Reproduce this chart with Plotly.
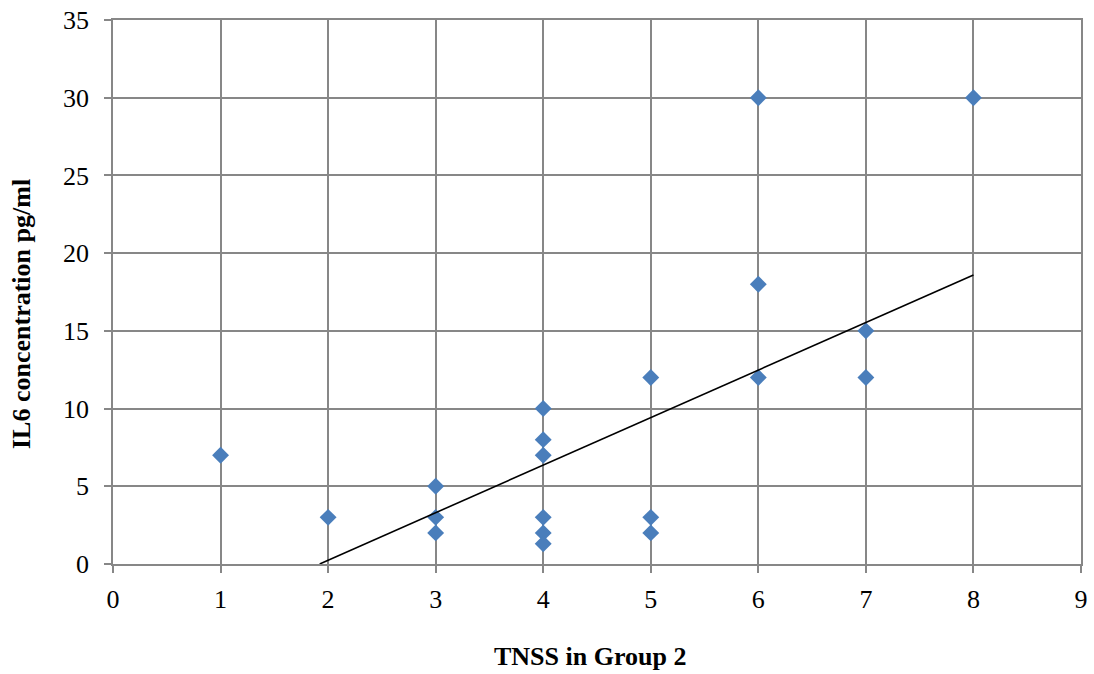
import numpy as np
import plotly.graph_objects as go

# Data
tnss = [1, 2, 3, 3, 3, 4, 4, 4, 4, 4, 4, 5, 5, 5, 6, 6, 6, 7, 7, 8]
il6 = [7, 3, 5, 3, 2, 10, 8, 7, 3, 2, 1.3, 12, 3, 2, 30, 18, 12, 15, 12, 30]

# Linear trendline parameters
trend_slope = 3.06
trend_intercept = -5.88

x_ticks = list(range(0, 10))
y_ticks = list(range(0, 36, 5))

x_start = max(min(tnss), -trend_intercept / trend_slope)
x_end = max(tnss)
trend_x = np.array([x_start, x_end])
trend_y = trend_slope * trend_x + trend_intercept

FONT = "Liberation Serif, Times New Roman, serif"
GRID = "#878787"

fig = go.Figure()
fig.add_trace(go.Scatter(
    x=tnss, y=il6, mode="markers",
    marker=dict(symbol="diamond", size=13, color="#4A7EBB",
                line=dict(width=0)),
    showlegend=False, hoverinfo="x+y",
))
fig.add_trace(go.Scatter(
    x=trend_x, y=trend_y, mode="lines",
    line=dict(color="black", width=1.6),
    showlegend=False, hoverinfo="skip",
))

fig.update_layout(
    width=1094, height=674,
    margin=dict(l=113, r=13, t=20, b=110, autoexpand=False),
    paper_bgcolor="white", plot_bgcolor="white",
    font=dict(family=FONT, size=26, color="black"),
    showlegend=False,
    annotations=[
        dict(text="<b>TNSS in Group 2</b>", xref="paper", yref="paper",
             x=(590 - 113) / (1081 - 113), y=-(656 - 564) / 544,
             xanchor="center", yanchor="middle", showarrow=False,
             font=dict(family=FONT, size=26, color="black")),
        dict(text="<b>IL6 concentration pg/ml</b>", xref="paper", yref="paper",
             x=-(113 - 21) / (1081 - 113), y=(564 - 314) / 544,
             xanchor="center", yanchor="middle", showarrow=False, textangle=-90,
             font=dict(family=FONT, size=26, color="black")),
    ],
)
fig.update_xaxes(
    range=[0, 9], tickvals=x_ticks, ticktext=[str(v) for v in x_ticks],
    showgrid=True, gridcolor=GRID, gridwidth=1.5,
    showline=True, linecolor=GRID, linewidth=1.5, mirror=True,
    zeroline=False, ticks="outside", ticklen=7, tickcolor=GRID, tickwidth=1.5,
    ticklabelstandoff=4, automargin=False,
)
fig.update_yaxes(
    range=[0, 35], tickvals=y_ticks, ticktext=[str(v) for v in y_ticks],
    showgrid=True, gridcolor=GRID, gridwidth=1.5,
    showline=True, linecolor=GRID, linewidth=1.5, mirror=True,
    zeroline=False, ticks="outside", ticklen=7, tickcolor=GRID, tickwidth=1.5,
    ticklabelstandoff=10, automargin=False,
)

fig.write_html(
    "out.html",
    config={"displayModeBar": False},
    post_script="document.body.style.margin='0';document.body.style.overflow='hidden';",
)
